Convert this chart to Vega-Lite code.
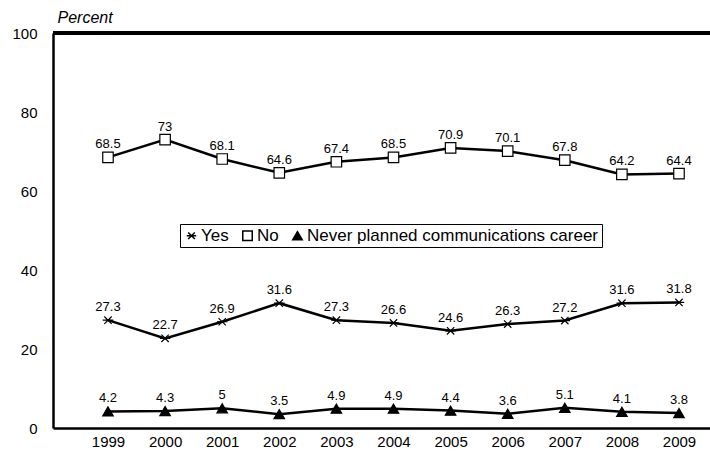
{
  "$schema": "https://vega.github.io/schema/vega-lite/v6.json",
  "width": 657,
  "height": 395,
  "autosize": {"type": "none"},
  "padding": {"left": 53, "top": 33, "right": 0, "bottom": 30},
  "background": "white",
  "config": {
    "view": {"stroke": null},
    "font": "Liberation Sans",
    "axis": {"labelFont": "Liberation Sans", "titleFont": "Liberation Sans"}
  },
  "data": {
    "values": [
      {"year": 1999, "series": "Yes", "value": 27.3},
      {"year": 2000, "series": "Yes", "value": 22.7},
      {"year": 2001, "series": "Yes", "value": 26.9},
      {"year": 2002, "series": "Yes", "value": 31.6},
      {"year": 2003, "series": "Yes", "value": 27.3},
      {"year": 2004, "series": "Yes", "value": 26.6},
      {"year": 2005, "series": "Yes", "value": 24.6},
      {"year": 2006, "series": "Yes", "value": 26.3},
      {"year": 2007, "series": "Yes", "value": 27.2},
      {"year": 2008, "series": "Yes", "value": 31.6},
      {"year": 2009, "series": "Yes", "value": 31.8},
      {"year": 1999, "series": "No", "value": 68.5},
      {"year": 2000, "series": "No", "value": 73},
      {"year": 2001, "series": "No", "value": 68.1},
      {"year": 2002, "series": "No", "value": 64.6},
      {"year": 2003, "series": "No", "value": 67.4},
      {"year": 2004, "series": "No", "value": 68.5},
      {"year": 2005, "series": "No", "value": 70.9},
      {"year": 2006, "series": "No", "value": 70.1},
      {"year": 2007, "series": "No", "value": 67.8},
      {"year": 2008, "series": "No", "value": 64.2},
      {"year": 2009, "series": "No", "value": 64.4},
      {"year": 1999, "series": "Never planned communications career", "value": 4.2},
      {"year": 2000, "series": "Never planned communications career", "value": 4.3},
      {"year": 2001, "series": "Never planned communications career", "value": 5},
      {"year": 2002, "series": "Never planned communications career", "value": 3.5},
      {"year": 2003, "series": "Never planned communications career", "value": 4.9},
      {"year": 2004, "series": "Never planned communications career", "value": 4.9},
      {"year": 2005, "series": "Never planned communications career", "value": 4.4},
      {"year": 2006, "series": "Never planned communications career", "value": 3.6},
      {"year": 2007, "series": "Never planned communications career", "value": 5.1},
      {"year": 2008, "series": "Never planned communications career", "value": 4.1},
      {"year": 2009, "series": "Never planned communications career", "value": 3.8}
    ]
  },
  "encoding": {
    "x": {
      "field": "year", "type": "quantitative",
      "scale": {"domain": [1998.037, 2009.543], "nice": false, "zero": false},
      "axis": {
        "values": [1999, 2000, 2001, 2002, 2003, 2004, 2005, 2006, 2007, 2008, 2009],
        "format": "d", "title": null, "grid": false, "ticks": false,
        "domainColor": "black", "domainWidth": 2.5, "labelFontSize": 15,
        "labelColor": "black", "labelPadding": 6, "labelFlush": false
      }
    },
    "y": {
      "field": "value", "type": "quantitative",
      "scale": {"domain": [0, 100], "nice": false},
      "axis": {
        "values": [0, 20, 40, 60, 80, 100], "grid": false, "ticks": false,
        "domainColor": "black", "domainWidth": 2.5, "labelFontSize": 15,
        "labelColor": "black", "labelPadding": 16,
        "title": "Percent", "titleAngle": 0, "titleX": 4, "titleY": -16,
        "titleAlign": "left", "titleBaseline": "middle", "titleFontSize": 16,
        "titleFontStyle": "italic", "titleFontWeight": "normal", "titleColor": "black"
      }
    }
  },
  "layer": [
    {
      "mark": {"type": "rule", "color": "black", "strokeWidth": 2.5},
      "encoding": {"y": {"datum": 100}, "x": {"datum": 1998.037}, "x2": {"datum": 2009.543}}
    },
    {
      "mark": {"type": "line", "color": "black", "strokeWidth": 2.5},
      "encoding": {"detail": {"field": "series"}}
    },
    {
      "mark": {"type": "point", "stroke": "black", "strokeWidth": 1.2, "opacity": 1, "size": 110},
      "encoding": {
        "shape": {
          "field": "series", "type": "nominal",
          "scale": {
            "domain": ["Yes", "No", "Never planned communications career"],
            "range": ["M-1,0L1,0M-0.7,-0.7L0.7,0.7M-0.7,0.7L0.7,-0.7", "square", "triangle-up"]
          },
          "legend": {
            "title": null, "orient": "none", "direction": "horizontal",
            "legendX": 127, "legendY": 191,
            "strokeColor": "black", "padding": 3, "fillColor": "white",
            "labelFontSize": 17, "labelColor": "black", "labelOffset": 1, "labelLimit": 500,
            "columnPadding": 10, "symbolSize": 90, "labelFont": "Liberation Sans",
            "encode": {"symbols": {"update": {"stroke": {"value": "black"}, "strokeWidth": {"value": 1.3}}}}
          }
        },
        "fill": {
          "field": "series", "type": "nominal",
          "scale": {
            "domain": ["Yes", "No", "Never planned communications career"],
            "range": ["transparent", "white", "black"]
          },
          "legend": {
            "title": null, "orient": "none", "direction": "horizontal",
            "legendX": 127, "legendY": 191,
            "strokeColor": "black", "padding": 3, "fillColor": "white",
            "labelFontSize": 17, "labelColor": "black", "labelOffset": 1, "labelLimit": 500,
            "columnPadding": 10, "symbolSize": 90, "labelFont": "Liberation Sans",
            "encode": {"symbols": {"update": {"stroke": {"value": "black"}, "strokeWidth": {"value": 1.3}}}}
          }
        }
      }
    },
    {
      "mark": {"type": "text", "fontSize": 13, "color": "black", "baseline": "bottom", "dy": -6},
      "encoding": {"text": {"field": "value", "type": "quantitative"}}
    }
  ]
}
